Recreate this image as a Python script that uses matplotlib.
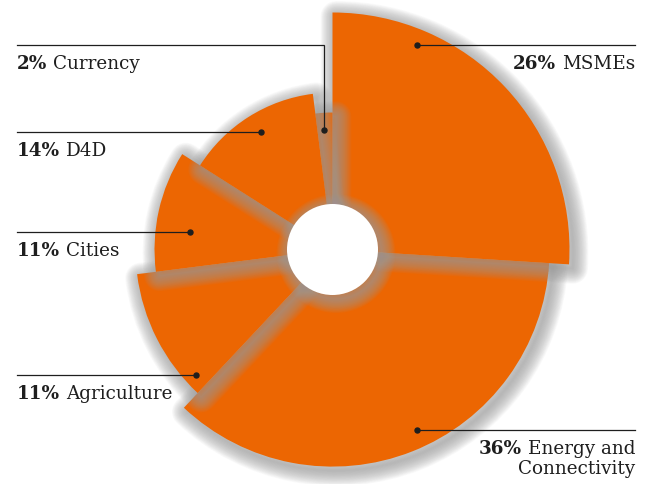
import matplotlib
matplotlib.use("Agg")
import matplotlib.pyplot as plt
from matplotlib.patches import Wedge, Circle
from matplotlib.transforms import offset_copy

# ---------------- data ----------------
names = ["MSMEs", "Energy and\nConnectivity", "Agriculture", "Cities", "D4D", "Currency"]
shares = [26, 36, 11, 11, 14, 2]           # percent
radius_scale = [1.0, 0.916, 0.831, 0.751, 0.662, 0.578]   # relative outer radius of each slice

# ---------------- style / layout ----------------
ORANGE = "#EC6602"
TEXT = "#1e1e1e"
W, H = 648, 484
CX, CY = 332.5, 249.5
R = 237.0
HOLE = 45.5
draw_order = [1, 0, 5, 2, 3, 4]

# label layout (pixel positions, y from the top)
label_side = ["right", "right", "left", "left", "left", "left"]
line_y = [45, 430, 375, 232, 131.5, 45]
dot_xy = [(417, 45), (417, 430), (196, 375), (190, 232), (261, 131.5), (323.5, 130)]
LEFT_X, RIGHT_X = 17, 635
FS = 13.2
FONT = "DejaVu Serif"

fig = plt.figure(figsize=(W / 100, H / 100), dpi=100)
ax = fig.add_axes([0, 0, 1, 1])
ax.set_xlim(0, W)
ax.set_ylim(H, 0)
ax.set_aspect("equal")
ax.axis("off")

shadow_tr = offset_copy(ax.transData, fig=fig, x=3.5, y=-4, units="dots")


def add_shadow(patch_factory, n=22, step_px=1.4, alpha=0.052, color="#a0a0a0"):
    for i in range(n, 0, -1):
        p = patch_factory()
        p.set_transform(shadow_tr)
        p.set_facecolor("none")
        p.set_edgecolor(color)
        p.set_alpha(alpha)
        p.set_linewidth(i * step_px * 72 / 100)
        p.set_joinstyle("round")
        ax.add_patch(p)


# cumulative angles (clockwise from top)
starts = []
acc = 0.0
for s in shares:
    starts.append(acc)
    acc += s * 3.6

for k in draw_order:
    a0 = starts[k]
    a1 = a0 + shares[k] * 3.6
    rr = R * radius_scale[k]
    factory = lambda a0=a0, a1=a1, rr=rr: Wedge((CX, CY), rr, a0 - 90, a1 - 90)
    add_shadow(factory)
    w = factory()
    w.set_facecolor(ORANGE)
    w.set_edgecolor("none")
    ax.add_patch(w)

# central hole with soft shadow
add_shadow(lambda: Circle((CX, CY), HOLE), n=20, step_px=1.4, alpha=0.055)
ax.add_patch(Circle((CX, CY), HOLE, facecolor="white", edgecolor="none"))

# ---------------- labels & leader lines ----------------
for k in range(len(names)):
    ly = line_y[k]
    dx, dy = dot_xy[k]
    if label_side[k] == "left":
        if abs(dy - ly) > 1:
            ax.plot([LEFT_X, dx, dx], [ly, ly, dy], color=TEXT, lw=0.9, solid_joinstyle="miter")
        else:
            ax.plot([LEFT_X, dx], [ly, ly], color=TEXT, lw=0.9)
    else:
        ax.plot([dx, RIGHT_X], [ly, ly], color=TEXT, lw=0.9)
    ax.plot([dx], [dy], "o", color=TEXT, ms=3.6)

    base = ly + 24
    lines = names[k].split("\n")
    pct = f"{shares[k]}%"
    if label_side[k] == "left":
        t = ax.text(LEFT_X, base, pct, fontsize=FS, fontweight="bold", family=FONT,
                    color=TEXT, ha="left", va="baseline")
        ax.annotate(lines[0], xy=(1, base), xycoords=(t, "data"), xytext=(4, 0),
                    textcoords="offset points", fontsize=FS, family=FONT, color=TEXT,
                    ha="left", va="baseline")
    else:
        t = ax.text(RIGHT_X, base, lines[0], fontsize=FS, family=FONT, color=TEXT,
                    ha="right", va="baseline")
        ax.annotate(pct, xy=(0, base), xycoords=(t, "data"), xytext=(-4, 0),
                    textcoords="offset points", fontsize=FS, fontweight="bold",
                    family=FONT, color=TEXT, ha="right", va="baseline")
        for j, extra in enumerate(lines[1:], start=1):
            ax.text(RIGHT_X, base + 19.5 * j, extra, fontsize=FS, family=FONT,
                    color=TEXT, ha="right", va="baseline")

fig.savefig("out.png", dpi=100, facecolor="white")
